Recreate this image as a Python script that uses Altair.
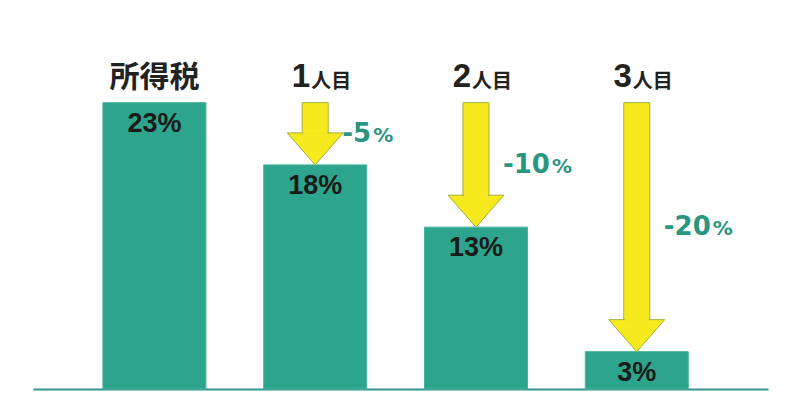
import altair as alt
import pandas as pd

# データ
categories = ["所得税", "1人目", "2人目", "3人目"]
rates = [23, 18, 13, 3]          # 税率 %
reductions = [0, 5, 10, 20]      # 所得税からの引き下げ幅 %

TEAL = "#2ca58c"
TEAL_TEXT = "#2a9580"
YELLOW = "#f6ea1f"
OLIVE = "#a2b03c"
LATIN = "'Liberation Sans', 'Noto Sans CJK JP', sans-serif"
CJK = "'Noto Sans CJK JP', sans-serif"
WIDE = "'DejaVu Sans', sans-serif"

df = pd.DataFrame({
    "cat": categories,
    "idx": list(range(len(categories))),
    "rate": rates,
    "cut": reductions,
})
df["base"] = max(rates)
df["mid"] = (df["base"] + df["rate"]) / 2
df["num"] = [c[:-2] if c.endswith("人目") else "" for c in categories]
df["suffix"] = [c[-2:] if c.endswith("人目") else "" for c in categories]
df["rate_label"] = df["rate"].astype(str) + "%"
df["cut_label"] = "-" + df["cut"].astype(str)

y_scale = alt.Scale(domain=[0, 30.6], nice=False, zero=True)

base = alt.Chart(df).encode(
    x=alt.X("idx:Q",
            scale=alt.Scale(domain=[-0.724, 3.785], nice=False, zero=False),
            axis=alt.Axis(labels=False, ticks=False, grid=False, title=None,
                          domainColor="#34968a", domainWidth=2))
)

bars = base.mark_bar(color=TEAL, size=103, stroke="#48b59c", strokeWidth=1).encode(
    y=alt.Y("rate:Q", scale=y_scale, axis=None)
)

arrows = base.transform_filter("datum.cut > 0")

# 矢印の軸
shaft = arrows.mark_bar(color=YELLOW, size=26, stroke=OLIVE, strokeWidth=1,
                        y2Offset=-30).encode(
    y=alt.Y("base:Q", scale=y_scale, axis=None),
    y2="rate:Q"
)

# 矢印の先端 (先端が税率の位置)
head = arrows.mark_point(shape="M-1,-1.143L1,-1.143L0,0Z", size=3136,
                         filled=True, fill=YELLOW, stroke=OLIVE, strokeWidth=1,
                         fillOpacity=1, strokeOpacity=1, opacity=1).encode(
    y=alt.Y("rate:Q", scale=y_scale, axis=None)
)

# 軸と先端のつなぎ目を隠す
cover = arrows.mark_bar(color=YELLOW, size=24, yOffset=1, y2Offset=-31).encode(
    y=alt.Y("base:Q", scale=y_scale, axis=None),
    y2="rate:Q"
)

value_text = base.mark_text(font=LATIN, fontSize=27, fontWeight="bold",
                            color="#1a1a1a", baseline="alphabetic", dy=29).encode(
    y=alt.Y("rate:Q", scale=y_scale, axis=None),
    text="rate_label:N"
)

head_main = base.transform_filter("datum.num == ''").mark_text(
    font=CJK, fontSize=30, fontWeight="bold", color="#222222",
    baseline="alphabetic", dy=-16).encode(
    y=alt.Y("base:Q", scale=y_scale, axis=None),
    text="cat:N"
)

head_num = base.transform_filter("datum.num != ''").mark_text(
    font=LATIN, fontSize=33, fontWeight="bold", color="#222222",
    baseline="alphabetic", align="right", dx=-5, dy=-16).encode(
    y=alt.Y("base:Q", scale=y_scale, axis=None),
    text="num:N"
)

head_suffix = base.transform_filter("datum.num != ''").mark_text(
    font=CJK, fontSize=20, fontWeight="bold", color="#222222",
    baseline="alphabetic", align="left", dx=-4, dy=-15).encode(
    y=alt.Y("base:Q", scale=y_scale, axis=None),
    text="suffix:N"
)

cut_num = arrows.mark_text(font=WIDE, fontSize=26, fontWeight="bold",
                           color=TEAL_TEXT, baseline="alphabetic",
                           align="left", dx=27, dy=8).encode(
    y=alt.Y("mid:Q", scale=y_scale, axis=None),
    text="cut_label:N"
)

pct_small = arrows.transform_filter("datum.cut < 10").mark_text(
    font=WIDE, fontSize=20, fontWeight="bold", color=TEAL_TEXT,
    baseline="alphabetic", align="left", dx=58, dy=8).encode(
    y=alt.Y("mid:Q", scale=y_scale, axis=None),
    text=alt.value("%")
)

pct_wide = arrows.transform_filter("datum.cut >= 10").mark_text(
    font=WIDE, fontSize=20, fontWeight="bold", color=TEAL_TEXT,
    baseline="alphabetic", align="left", dx=76, dy=8).encode(
    y=alt.Y("mid:Q", scale=y_scale, axis=None),
    text=alt.value("%")
)

chart = alt.layer(
    bars, shaft, head, cover, value_text,
    head_main, head_num, head_suffix, cut_num, pct_small, pct_wide
).properties(
    width=735,
    height=381,
    padding={"left": 25, "top": 0, "right": 5, "bottom": 5},
    background="white"
).configure_view(stroke=None)

chart.save("out.html", embed_options={"renderer": "svg", "actions": False})
